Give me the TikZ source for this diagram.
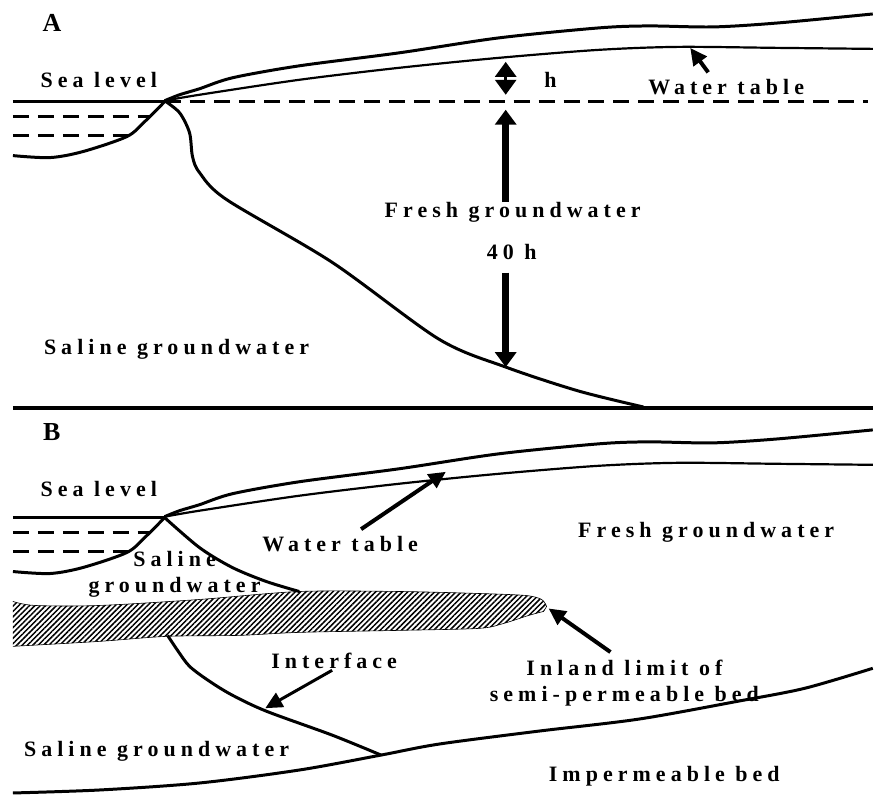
\documentclass[tikz,border=0pt]{standalone}
\usepackage{fontspec}
\setmainfont{Liberation Serif}
\newfontfamily\lblfont[LetterSpace=23]{Liberation Serif}
\usetikzlibrary{arrows.meta,patterns.meta}

\begin{document}
\begin{tikzpicture}[x=1pt,y=-1pt]
    \tikzstyle{every node} = [font=\lblfont\bfseries\fontsize{22}{26}\selectfont, inner sep=3pt]
    \tikzstyle{lbl} = [anchor=base]
    \tikzstyle{panel} = [anchor=base, font=\rmfamily\bfseries\fontsize{26}{28}\selectfont]
    \tikzstyle{thickline} = [line width=3pt]
    \tikzstyle{thinline} = [line width=2.2pt]
    \tikzstyle{dashline} = [line width=3pt, dash pattern=on 16pt off 9pt]
    \tikzstyle{divider} = [line width=4.5pt]
    \tikzstyle{bigarrow} = [line width=6.5pt, -{Triangle[length=15pt,width=21pt]}]
    \tikzstyle{harrow} = [line width=3pt, {Triangle[length=15pt,width=21pt]}-{Triangle[length=15pt,width=21pt]}]
    \tikzstyle{pointer} = [line width=4pt, -{Triangle[length=17pt,width=16pt]}]
    \tikzstyle{bed} = [pattern={Lines[angle=45,distance=3.8pt,line width=1.5pt]}]

    \path[fill=white] (0,0) rectangle (875,798);

    % sea, shore and land surface (same in both panels)
    \foreach \dy in {0,417} {
      \begin{scope}[shift={(0,\dy)}]
        \draw[thickline] (13,102) -- (165,102);
        \draw[dashline] (13,117) -- (149,117);
        \draw[dashline] (13,136) -- (129,136);
        \draw[thickline] plot[smooth] coordinates {(13,156) (50,158) (83,152) (127,137) (145,122) (165,102)};
        \draw[thickline] plot[smooth] coordinates {(165,101) (180,95) (200,89) (233,78) (300,66) (400,53) (500,38) (600,28) (650,26) (715,27) (780,23) (875,14)};
        \draw[thinline] plot[smooth] coordinates {(165,101) (200,95) (300,80) (400,68) (500,58) (600,50) (680,47) (780,48) (875,49)};
      \end{scope}
    }

    % panel A
    \node[panel] (labA) at (52,32) {A};
    \node[lbl] (seaA) at (99,88) {Sea level};
    \node[lbl] (wtlblA) at (728,95) {Water table};
    \node[lbl] (hlbl) at (552,88) {h};
    \node[lbl] (freshA) at (514,218) {Fresh groundwater};
    \node[lbl] (fortyh) at (513,260) {40 h};
    \node[lbl] (salineA) at (177,355) {Saline groundwater};

    \draw[dashline] (165,102) -- (870,102);
    \draw[thickline] plot[smooth] coordinates {(165,101) (180,113) (190,133) (193,157) (200,173) (227,200) (333,263) (440,340) (507,368) (580,392) (645,408)};

    \coordinate (seaTip) at (507,110);
    \coordinate (ifcTipA) at (507,368);
    \coordinate (hTop) at (507,62);
    \coordinate (hBot) at (507,95);
    \coordinate (wtA) at (692,48);

    \draw[bigarrow, shorten <=-3pt] (freshA.north -| seaTip) -- (seaTip);
    \draw[bigarrow, shorten <=10pt] (fortyh.south -| ifcTipA) -- (ifcTipA);
    \draw[harrow] (hTop) -- (hBot);
    \draw[pointer] ([xshift=-18pt,yshift=4pt]wtlblA.north) -- (wtA);

    \draw[divider] (13,409) -- (875,409);

    % panel B
    \node[panel] (labB) at (52,442) {B};
    \node[lbl] (seaB) at (99,498) {Sea level};
    \node[lbl] (wtlblB) at (341,553) {Water table};
    \node[lbl] (freshB) at (708,539) {Fresh groundwater};
    \node[align=center] (salineWedge) at (175,576) {Saline\\groundwater};
    \node[lbl] (interface) at (335,670) {Interface};
    \node[align=center] (inland) at (626,685) {Inland limit of\\semi-permeable bed};
    \node[lbl] (salineB) at (157,758) {Saline groundwater};
    \node[lbl] (imperm) at (666,783) {Impermeable bed};

    % semi-permeable bed
    \fill[bed] plot[smooth] coordinates {(13,603) (35,607) (100,607) (200,601) (300,593) (400,593) (480,595) (527,597) (543,601) (548,608)}
      -- plot[smooth] coordinates {(545,613) (530,617) (505,625) (480,630) (400,632) (300,634) (240,637) (167,638) (100,643) (13,648)} -- cycle;
    \draw[line width=0.6pt] plot[smooth] coordinates {(13,603) (35,607) (100,607) (200,601) (300,593) (400,593) (480,595) (527,597) (543,601) (548,608)}
      -- plot[smooth] coordinates {(545,613) (530,617) (505,625) (480,630) (400,632) (300,634) (240,637) (167,638) (100,643) (13,648)};

    % interface above and below the bed, impermeable base
    \draw[thickline] plot[smooth] coordinates {(164,518) (200,549) (233,569) (267,583) (300,593)};
    \draw[thickline] plot[smooth] coordinates {(168,637) (178,652) (190,668) (210,683) (233,697) (267,713) (333,737) (382,757)};
    \draw[thickline] plot[smooth] coordinates {(13,795) (100,792) (200,785) (300,772) (382,757) (440,746) (540,733) (640,721) (740,703) (807,690) (875,670)};

    \coordinate (wtB) at (447,473);
    \coordinate (ifcTipB) at (266,710);
    \coordinate (bedTip) at (550,610);

    \draw[pointer] ([xshift=21pt,yshift=4pt]wtlblB.north) -- (wtB);
    \draw[pointer, line width=3pt] ([xshift=-2pt,yshift=-2pt]interface.base) -- (ifcTipB);
    \draw[pointer] ([xshift=-14pt,yshift=5pt]inland.north) -- (bedTip);
\end{tikzpicture}
\end{document}
